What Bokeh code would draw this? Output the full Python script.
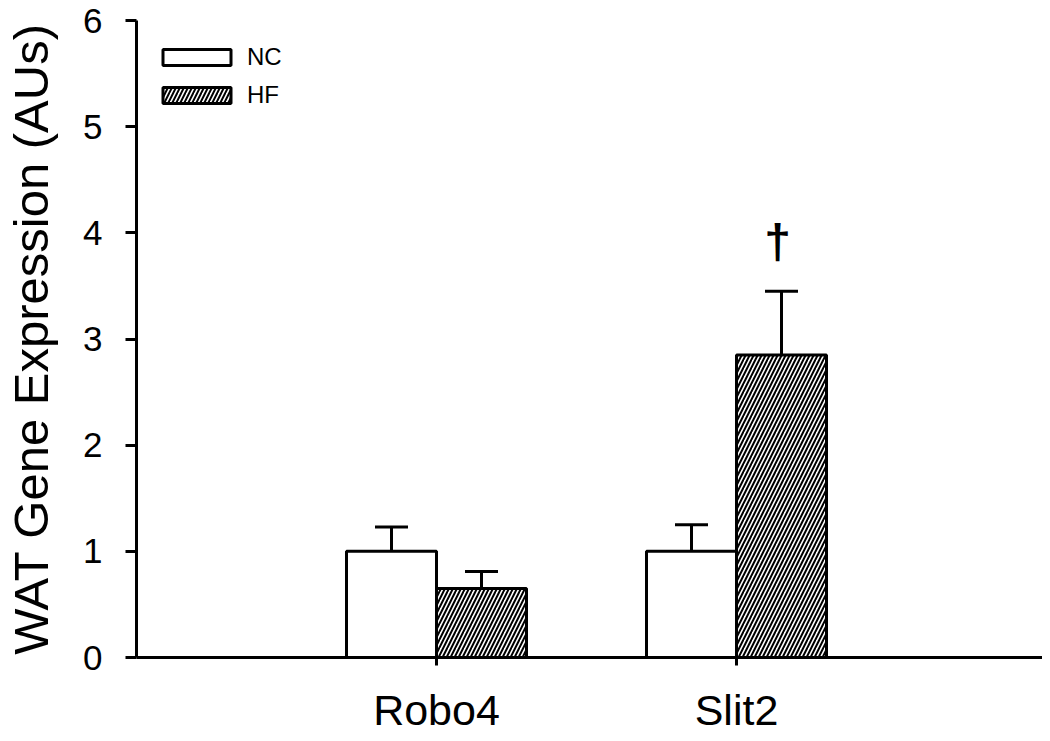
from bokeh.plotting import figure
from bokeh.models import (ColumnDataSource, Whisker, TeeHead, Legend, LegendItem,
                          FixedTicker, Range1d)
from bokeh.core.properties import value
from bokeh.embed import file_html
from bokeh.resources import INLINE

# ---- data ----
genes = ["Robo4", "Slit2"]
gene_pos = [1, 2]
groups = ["NC", "HF"]
nc_mean = [1.00, 1.00]
nc_err = [0.23, 0.25]
hf_mean = [0.65, 2.85]
hf_err = [0.16, 0.60]
sig_marks = ["", "\u2020"]
y_ticks = [0, 1, 2, 3, 4, 5, 6]

FONT = "Liberation Sans"
bar_w = 0.3

nc_x = [g - bar_w / 2 for g in gene_pos]
hf_x = [g + bar_w / 2 for g in gene_pos]

src_nc = ColumnDataSource(dict(x=nc_x, top=nc_mean,
                               upper=[m + e for m, e in zip(nc_mean, nc_err)]))
src_hf = ColumnDataSource(dict(x=hf_x, top=hf_mean,
                               upper=[m + e for m, e in zip(hf_mean, hf_err)]))
src_sig = ColumnDataSource(dict(x=hf_x, y=[m + e + 0.47 for m, e in zip(hf_mean, hf_err)],
                                text=sig_marks))

p = figure(width=1042, height=736, output_backend="svg", toolbar_location=None,
           x_range=Range1d(0, 3.02), y_range=Range1d(0, 6),
           min_border_left=136, min_border_right=0, min_border_top=20,
           min_border_bottom=79)
p.outline_line_color = None
p.xgrid.visible = False
p.ygrid.visible = False
p.background_fill_color = "white"
p.border_fill_color = "white"

r_nc = p.vbar(x="x", top="top", bottom=0, width=bar_w, source=src_nc,
              fill_color="white", line_color="black", line_width=3)
r_hf = p.vbar(x="x", top="top", bottom=0, width=bar_w, source=src_hf,
              fill_color="white", line_color="black", line_width=3,
              hatch_pattern="right_diagonal_line", hatch_color="black",
              hatch_scale=8, hatch_weight=2)

for src in (src_nc, src_hf):
    w = Whisker(base="x", upper="upper", lower="top", source=src, dimension="height",
                line_color="black", line_width=3,
                upper_head=TeeHead(size=33, line_width=3, line_color="black"),
                lower_head=None)
    p.add_layout(w)

p.text(x="x", y="y", text="text", source=src_sig, text_font=value(FONT),
       text_font_size="48px", text_font_style="bold", text_align="center",
       text_baseline="middle", text_color="black", x_offset=-4)

# axes
p.yaxis.ticker = FixedTicker(ticks=y_ticks, minor_ticks=[])
p.yaxis.axis_label = "WAT Gene Expression (AUs)"
p.yaxis.axis_label_text_font = FONT
p.yaxis.axis_label_text_font_style = "normal"
p.yaxis.axis_label_text_font_size = "49px"
p.yaxis.axis_label_text_color = "black"
p.yaxis.axis_label_standoff = 22
p.yaxis.major_label_text_font = FONT
p.yaxis.major_label_text_font_size = "35px"
p.yaxis.major_label_text_color = "black"
p.yaxis.major_label_standoff = 23
p.yaxis.major_tick_out = 11
p.yaxis.major_tick_in = 0
p.yaxis.major_tick_line_width = 3
p.yaxis.axis_line_width = 3

p.xaxis.ticker = FixedTicker(ticks=gene_pos, minor_ticks=[])
p.xaxis.major_label_overrides = {g: n for g, n in zip(gene_pos, genes)}
p.xaxis.major_label_text_font = FONT
p.xaxis.major_label_text_font_size = "43px"
p.xaxis.major_label_text_color = "black"
p.xaxis.major_label_standoff = 20
p.xaxis.major_tick_out = 8
p.xaxis.major_tick_in = 0
p.xaxis.major_tick_line_width = 3
p.xaxis.axis_line_width = 3

legend = Legend(items=[LegendItem(label=groups[0], renderers=[r_nc]),
                       LegendItem(label=groups[1], renderers=[r_hf])],
                location="top_left", glyph_width=85, glyph_height=20,
                label_text_font=FONT, label_text_font_size="24px",
                label_text_color="black",
                label_standoff=8, label_height=37, spacing=1,
                padding=9, margin=9,
                border_line_alpha=0, background_fill_alpha=0)
p.add_layout(legend)

open("out.html", "w").write(file_html(p, INLINE))
